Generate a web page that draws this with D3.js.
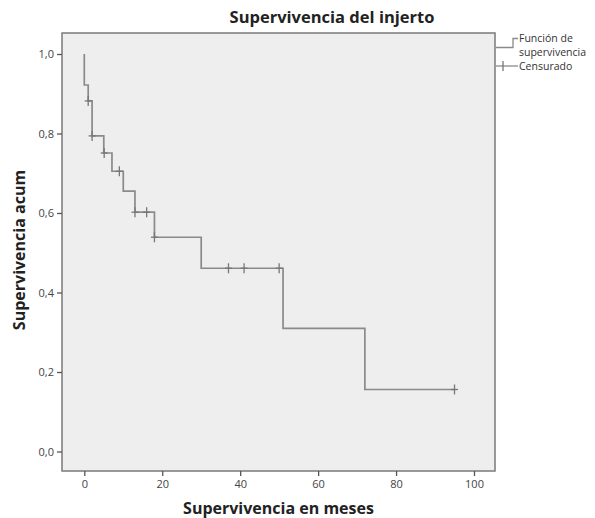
<!DOCTYPE html>
<html>
<head>
<meta charset="utf-8">
<script src="https://cdn.jsdelivr.net/npm/d3@7"></script>
<style>
  body { margin: 0; background: #fff; }
  text { font-family: "Open Sans", "DejaVu Sans", sans-serif; }
</style>
</head>
<body>
<svg id="svg" width="595" height="518"></svg>
<script>
// Kaplan-Meier: tiempos de evento y supervivencia acumulada tras cada evento
var eventTimes = [0, 1, 2, 5, 7.1, 10, 13, 18, 30, 51, 72];
var survival   = [0.922, 0.882, 0.794, 0.751, 0.705, 0.655, 0.602, 0.539, 0.461, 0.31, 0.156];
var censorTimes = [1, 2, 5.1, 9, 13, 16, 18, 37, 41, 50, 95];
var endTime = 95;
var xTicks = [0, 20, 40, 60, 80, 100];
var yTicks = [0, 0.2, 0.4, 0.6, 0.8, 1.0];

var svg = d3.select("#svg");
var box = {left: 62, right: 495, top: 33, bottom: 471};

var x = d3.scaleLinear().domain([0, 100]).range([84.3, 474]);
var y = d3.scaleLinear().domain([0, 1]).range([451.5, 54]);

// fondo del area de grafico
svg.append("rect")
  .attr("x", box.left).attr("y", box.top)
  .attr("width", box.right - box.left).attr("height", box.bottom - box.top)
  .style("fill", "#eeeeee")
  .style("stroke", "#7a7a7a")
  .style("stroke-width", 1.5);

function fmt(d) { return d.toFixed(1).replace(".", ","); }

var yAxis = svg.append("g")
  .attr("transform", "translate(" + box.left + ",0)")
  .call(d3.axisLeft(y).tickValues(yTicks).tickSize(5).tickPadding(3).tickFormat(fmt));
var xAxis = svg.append("g")
  .attr("transform", "translate(0," + box.bottom + ")")
  .call(d3.axisBottom(x).tickValues(xTicks).tickSize(5).tickPadding(4).tickFormat(d3.format("d")));

[xAxis, yAxis].forEach(function(ax) {
  ax.select(".domain").remove();
  ax.selectAll(".tick line").style("stroke", "#555").style("stroke-width", 1.3);
  ax.selectAll(".tick text").style("font-size", "11px").style("fill", "#444")
    .style("font-family", "'Open Sans', 'DejaVu Sans', sans-serif");
});

// curva escalonada
var pts = [[0, 1]];
eventTimes.forEach(function(t, i) {
  pts.push([t, i == 0 ? 1 : survival[i - 1]]);
  pts.push([t, survival[i]]);
});
pts.push([endTime, survival[survival.length - 1]]);

var line = d3.line().x(function(d) { return x(d[0]); }).y(function(d) { return y(d[1]); });
svg.append("path")
  .datum(pts)
  .attr("d", line)
  .style("fill", "none")
  .style("stroke", "#8a8a8a")
  .style("stroke-width", 1.7);

// marcas de censura: nivel de la curva en ese tiempo
function survAt(t) {
  var i = d3.bisectRight(eventTimes, t);
  return i == 0 ? 1 : survival[i - 1];
}
var cens = svg.append("g");
censorTimes.forEach(function(t) {
  var cx = x(t), cy = y(survAt(t));
  cens.append("line").attr("x1", cx).attr("x2", cx).attr("y1", cy - 5).attr("y2", cy + 5);
  cens.append("line").attr("x1", cx - 3.5).attr("x2", cx + 3.5).attr("y1", cy).attr("y2", cy);
});
cens.selectAll("line").style("stroke", "#777").style("stroke-width", 1.3);

// titulos
svg.append("text")
  .attr("x", 332).attr("y", 23)
  .attr("text-anchor", "middle")
  .style("font-size", "16.5px").style("font-weight", "bold").style("fill", "#222")
  .text("Supervivencia del injerto");

svg.append("text")
  .attr("x", (box.left + box.right) / 2).attr("y", 514)
  .attr("text-anchor", "middle")
  .style("font-size", "16px").style("font-weight", "bold").style("fill", "#222")
  .text("Supervivencia en meses");

svg.append("text")
  .attr("transform", "translate(25,250) rotate(-90)")
  .attr("text-anchor", "middle")
  .style("font-size", "16px").style("font-weight", "bold").style("fill", "#222")
  .text("Supervivencia acum");

// leyenda
var leg = svg.append("g");
leg.append("path")
  .attr("d", "M496,47.5 H513 V38.5 H518")
  .style("fill", "none").style("stroke", "#8a8a8a").style("stroke-width", 1.3);
leg.append("line").attr("x1", 496).attr("x2", 518).attr("y1", 66).attr("y2", 66)
  .style("stroke", "#8a8a8a").style("stroke-width", 1.3);
leg.append("line").attr("x1", 503).attr("x2", 503).attr("y1", 61).attr("y2", 71)
  .style("stroke", "#777").style("stroke-width", 1.3);
var legText = [["Función de", 42], ["supervivencia", 56], ["Censurado", 70]];
legText.forEach(function(d) {
  leg.append("text").attr("x", 519).attr("y", d[1])
    .style("font-size", "10.5px").style("fill", "#333")
    .text(d[0]);
});
</script>
</body>
</html>
